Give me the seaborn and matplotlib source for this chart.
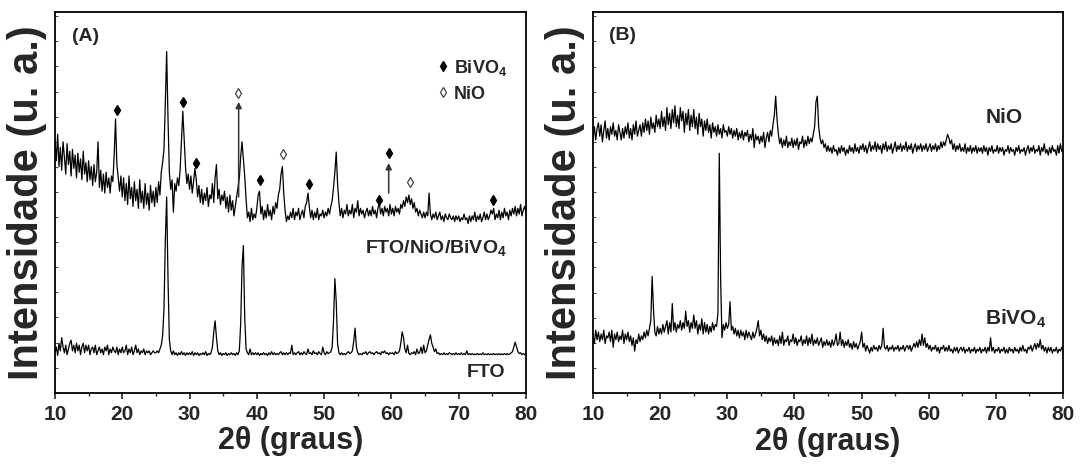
import numpy as np
import pandas as pd
import matplotlib
matplotlib.use("Agg")
import matplotlib.pyplot as plt
from matplotlib.ticker import MultipleLocator
from matplotlib.lines import Line2D
import seaborn as sns

# 2-theta grid (degrees), 0.2 step from 10 to 80
two_theta = np.round(np.arange(10.0, 80.0001, 0.2), 1)

# Panel A: FTO/NiO/BiVO4 film (offset upper trace), arbitrary units
fto_nio_bivo4 = [
    66.5, 61.0, 68.0, 59.5, 64.5, 58.5, 66.0, 62.0, 57.5, 65.5, 60.0, 63.5, 57.0, 64.0, 59.0, 62.5, 56.5, 63.0, 58.0, 61.5, 56.0, 63.5, 57.5, 60.5, 55.5,
    61.0, 56.0, 59.5, 54.5, 60.0, 55.5, 58.0, 66.0, 54.0, 58.5, 53.0, 57.5, 52.5, 58.0, 54.0, 56.5, 52.5, 57.0, 55.5, 62.5, 72.0, 60.0, 56.5, 53.0, 57.0,
    51.5, 56.5, 50.5, 55.0, 49.5, 57.0, 51.0, 54.0, 49.0, 55.5, 50.5, 53.5, 48.5, 56.0, 50.0, 53.0, 48.5, 55.0, 49.5, 52.5, 48.0, 54.5, 50.0, 53.0, 49.0,
    54.0, 50.0, 55.5, 52.0, 58.0, 60.5, 64.0, 76.0, 89.7, 72.0, 58.0, 53.5, 56.0, 47.5, 55.0, 53.0, 56.5, 54.5, 58.5, 66.0, 74.0, 66.5, 59.5, 55.0, 57.5,
    53.5, 57.0, 52.5, 55.5, 59.0, 56.0, 51.5, 54.5, 50.0, 53.5, 49.5, 52.5, 50.5, 54.0, 49.0, 52.0, 51.0, 55.0, 50.0, 56.5, 60.0, 51.0, 53.5, 49.5, 52.0,
    50.5, 53.0, 48.5, 51.5, 47.5, 52.0, 48.0, 50.5, 46.5, 49.0, 51.5, 54.0, 56.5, 62.0, 66.0, 61.5, 57.0, 51.0, 46.0, 47.5, 45.0, 48.5, 45.5, 47.0, 46.0,
    48.5, 52.0, 53.0, 47.0, 49.0, 45.5, 48.0, 46.0, 49.5, 46.5, 48.0, 45.5, 49.0, 47.0, 50.0, 48.5, 52.0, 53.5, 57.5, 59.5, 52.5, 48.0, 45.0, 46.5, 45.5,
    47.5, 46.0, 48.5, 45.5, 47.5, 46.5, 48.5, 45.5, 47.0, 48.0, 46.0, 49.0, 50.0, 52.5, 49.0, 46.0, 48.0, 45.5, 47.5, 46.0, 48.5, 45.5, 47.0, 46.5, 48.0,
    46.0, 47.5, 46.5, 48.5, 47.0, 49.0, 50.5, 54.0, 58.0, 63.3, 55.0, 50.0, 46.5, 48.5, 46.0, 48.0, 47.0, 49.5, 46.5, 48.0, 47.0, 49.5, 46.0, 48.5, 47.5,
    50.5, 46.5, 48.5, 47.0, 48.0, 46.0, 47.5, 48.5, 46.5, 48.0, 46.5, 49.0, 47.0, 48.0, 46.0, 48.5, 50.0, 47.0, 48.5, 46.5, 49.0, 47.5, 48.5, 46.5, 49.5,
    47.0, 48.5, 46.5, 49.0, 47.5, 48.5, 47.0, 49.5, 48.5, 50.5, 49.0, 51.5, 50.0, 52.0, 49.5, 51.0, 48.5, 50.0, 47.5, 48.5, 46.5, 48.0, 47.0, 46.0, 47.5,
    46.0, 47.5, 46.5, 52.5, 47.0, 45.5, 47.0, 46.0, 47.5, 45.5, 46.5, 47.5, 45.5, 46.5, 45.0, 47.0, 46.0, 45.5, 47.0, 46.0, 45.5, 46.5, 45.0, 46.5, 45.5,
    46.5, 45.0, 46.0, 45.5, 47.0, 45.5, 46.0, 44.5, 46.5, 45.0, 46.5, 45.5, 47.5, 45.0, 46.5, 45.5, 47.0, 45.0, 46.0, 47.5, 45.5, 47.0, 45.5, 46.5, 48.0,
    47.0, 48.5, 45.5, 47.0, 46.0, 48.0, 45.5, 47.5, 46.0, 48.5, 46.5, 47.5, 45.5, 48.0, 46.5, 48.5, 47.0, 49.0, 46.5, 48.5, 47.0, 49.5, 46.5, 48.0, 49.0,
    47.5,
]

# Panel A: bare FTO substrate (lower trace)
fto = [
    10.5, 12.0, 9.8, 13.0, 11.0, 14.5, 12.0, 10.5, 12.5, 10.0, 11.5, 13.0, 13.8, 11.0, 12.5, 10.5, 13.0, 11.0, 12.5, 10.0, 12.0, 13.0, 10.5, 12.5, 11.0,
    12.5, 10.0, 11.5, 12.0, 10.5, 12.5, 10.0, 11.0, 12.0, 10.5, 11.5, 10.0, 12.0, 11.0, 12.5, 10.0, 11.5, 10.5, 12.0, 11.0, 10.5, 12.0, 10.0, 11.5, 10.5,
    12.0, 10.5, 11.0, 12.5, 10.0, 11.5, 10.5, 12.0, 10.0, 11.0, 12.5, 10.5, 11.5, 10.0, 11.0, 10.5, 11.5, 10.0, 11.0, 10.5, 11.0, 10.0, 10.5, 11.0, 10.5,
    10.5, 11.0, 10.5, 11.5, 12.5, 15.0, 22.0, 40.0, 51.5, 30.0, 14.0, 11.0, 10.0, 11.0, 10.0, 10.5, 9.8, 10.5, 10.0, 10.8, 10.0, 10.5, 9.8, 10.5, 10.0,
    10.5, 10.0, 10.8, 9.8, 10.5, 10.0, 10.5, 9.8, 10.3, 10.0, 10.5, 10.0, 10.8, 9.8, 10.3, 10.0, 10.5, 12.0, 16.0, 18.9, 14.5, 11.0, 10.0, 10.5, 9.8,
    10.3, 10.0, 10.5, 9.8, 10.3, 10.0, 10.5, 10.0, 10.3, 9.8, 10.5, 10.0, 11.0, 18.0, 33.0, 38.7, 20.0, 11.5, 10.5, 10.0, 11.5, 10.0, 10.5, 10.0, 10.5,
    10.0, 10.5, 9.8, 10.3, 10.0, 10.5, 10.0, 10.3, 9.8, 10.5, 10.0, 10.8, 10.0, 10.5, 10.0, 10.3, 10.0, 10.5, 10.8, 10.0, 10.5, 10.0, 10.5, 10.0, 10.5,
    10.3, 12.5, 10.0, 10.5, 10.0, 10.5, 10.8, 10.0, 10.5, 10.0, 10.8, 10.3, 10.0, 11.5, 10.3, 10.5, 10.0, 11.0, 10.3, 10.5, 10.0, 10.8, 10.3, 10.0, 12.0,
    10.5, 10.0, 10.8, 10.3, 10.5, 10.8, 12.0, 19.0, 30.0, 24.0, 13.0, 10.5, 10.0, 10.5, 10.0, 10.3, 10.0, 10.5, 10.8, 10.3, 10.5, 11.0, 13.5, 17.0, 12.0,
    10.5, 10.0, 10.3, 10.0, 10.5, 10.3, 10.8, 10.0, 10.5, 10.8, 10.3, 10.5, 10.0, 10.5, 10.8, 10.3, 10.5, 10.0, 10.8, 10.5, 11.0, 10.3, 10.5, 10.0, 10.5,
    10.3, 10.5, 10.0, 10.8, 10.3, 10.5, 11.0, 13.0, 16.0, 14.5, 11.5, 10.5, 12.5, 10.3, 10.0, 10.5, 10.3, 10.8, 10.0, 11.5, 10.3, 10.5, 12.0, 10.3, 12.5,
    10.5, 11.0, 12.5, 14.0, 15.2, 13.0, 12.0, 10.8, 11.5, 10.3, 10.5, 10.0, 10.3, 10.0, 10.5, 10.0, 10.3, 10.0, 10.5, 10.3, 10.0, 10.3, 10.0, 10.5, 10.0,
    10.3, 10.0, 10.5, 10.0, 10.3, 10.0, 11.0, 10.0, 10.3, 10.0, 10.3, 10.0, 10.2, 10.0, 10.3, 10.0, 10.2, 10.0, 10.5, 10.0, 10.2, 10.0, 10.3, 10.0, 10.2,
    10.0, 10.3, 10.0, 10.2, 10.0, 10.3, 10.0, 10.2, 10.0, 10.3, 10.0, 10.3, 10.0, 10.2, 10.5, 10.8, 12.0, 13.3, 12.0, 10.8, 10.3, 10.5, 10.0, 10.3, 10.0,
    10.2,
]

# Panel B: NiO film (upper trace)
nio = [
    67.0, 70.0, 66.5, 69.5, 71.0, 67.5, 70.5, 66.0, 69.0, 71.5, 67.0, 69.5, 66.5, 70.0, 68.0, 71.0, 67.5, 69.0, 66.5, 70.5, 68.5, 66.5, 69.5, 67.0, 70.0,
    68.0, 71.0, 67.0, 69.5, 66.5, 70.5, 68.0, 71.5, 67.5, 69.0, 70.5, 67.5, 71.0, 68.5, 72.0, 69.0, 71.5, 68.0, 72.5, 69.5, 71.0, 68.5, 73.0, 70.0, 72.0,
    69.5, 74.0, 70.0, 72.5, 69.0, 75.0, 70.5, 73.5, 69.5, 74.5, 71.0, 75.5, 70.0, 73.0, 69.5, 75.0, 71.5, 74.0, 68.5, 73.5, 70.5, 74.5, 69.0, 73.0, 70.0,
    74.5, 69.5, 72.5, 68.0, 73.5, 70.0, 72.0, 67.5, 71.5, 69.0, 72.0, 68.5, 70.5, 67.0, 71.0, 68.5, 70.0, 67.5, 70.5, 68.0, 69.5, 67.0, 70.5, 68.5, 69.0,
    67.5, 70.0, 68.0, 69.5, 67.0, 69.0, 67.5, 69.5, 66.5, 68.5, 67.0, 69.0, 66.5, 68.5, 67.5, 69.0, 66.0, 68.0, 66.5, 69.5, 64.5, 68.0, 66.5, 67.5, 65.5,
    67.5, 66.0, 68.5, 64.5, 67.0, 68.5, 66.0, 69.0, 67.5, 70.5, 73.0, 78.0, 72.0, 68.0, 65.5, 67.0, 64.5, 66.5, 65.0, 67.5, 64.5, 66.0, 65.0, 67.0, 64.5,
    66.5, 65.0, 67.0, 64.0, 66.0, 65.5, 67.5, 64.5, 66.5, 65.0, 67.5, 65.5, 67.0, 66.0, 68.0, 70.0, 76.5, 78.0, 70.0, 67.0, 65.5, 66.5, 64.5, 65.5, 63.5,
    65.0, 63.5, 64.5, 63.0, 65.0, 63.5, 64.0, 62.5, 64.5, 63.0, 65.0, 63.5, 64.5, 62.5, 64.0, 63.0, 65.0, 63.5, 64.5, 63.0, 65.5, 63.5, 64.5, 63.0, 65.0,
    64.0, 65.5, 63.5, 65.0, 63.0, 64.5, 66.0, 63.5, 65.0, 64.0, 66.0, 63.5, 65.5, 64.0, 65.0, 63.0, 65.5, 64.0, 66.0, 63.5, 65.0, 64.0, 65.5, 63.0, 64.5,
    66.0, 63.5, 65.0, 64.0, 65.5, 63.5, 65.0, 64.0, 66.0, 63.5, 65.0, 64.0, 65.5, 63.0, 64.5, 65.5, 63.5, 65.0, 64.0, 65.5, 63.5, 65.0, 64.0, 65.5, 63.5,
    64.5, 65.5, 63.5, 65.0, 64.0, 65.5, 63.5, 65.0, 64.0, 66.0, 64.5, 66.0, 65.0, 66.5, 68.0, 67.0, 65.5, 66.5, 64.0, 65.5, 63.5, 65.0, 64.0, 65.5, 63.5,
    64.5, 63.5, 65.5, 63.0, 64.5, 63.5, 65.0, 63.0, 64.5, 63.5, 65.0, 63.0, 64.5, 63.5, 64.5, 63.0, 65.0, 63.5, 64.5, 62.5, 64.5, 63.5, 65.0, 63.0, 64.0,
    63.5, 65.0, 63.0, 64.5, 63.5, 64.5, 62.5, 64.0, 63.5, 65.0, 63.0, 64.5, 63.5, 64.0, 62.5, 64.5, 63.5, 65.0, 63.0, 64.0, 63.5, 64.5, 62.5, 64.0, 65.0,
    63.0, 64.5, 63.5, 65.0, 63.0, 64.0, 63.5, 65.0, 62.5, 64.5, 63.5, 65.5, 63.0, 64.0, 62.5, 64.5, 63.0, 65.0, 63.5, 64.0, 62.5, 65.0, 63.0, 65.5, 63.5,
    64.0,
]

# Panel B: BiVO4 film (lower trace)
bivo4 = [
    15.0, 13.0, 16.5, 14.0, 16.0, 13.5, 15.5, 14.0, 16.5, 13.0, 15.0, 14.5, 16.0, 13.5, 16.5, 12.0, 15.5, 14.0, 16.0, 13.5, 15.0, 14.0, 16.5, 13.0, 15.5,
    14.0, 16.0, 13.5, 15.0, 12.5, 14.5, 11.0, 14.0, 13.0, 15.5, 13.5, 15.0, 14.0, 16.0, 14.5, 16.5, 15.0, 17.0, 19.0, 30.6, 22.0, 16.0, 15.0, 17.5, 15.5,
    17.0, 15.5, 18.0, 16.0, 17.5, 19.0, 15.5, 18.5, 16.0, 23.5, 16.5, 18.5, 16.0, 18.0, 17.0, 19.0, 16.5, 18.5, 17.0, 21.5, 17.5, 19.0, 16.0, 18.5, 17.0,
    20.5, 17.0, 19.0, 15.5, 18.0, 16.5, 19.5, 15.5, 18.5, 16.0, 18.0, 15.5, 17.5, 16.0, 18.5, 16.5, 18.0, 17.5, 21.0, 63.0, 30.0, 14.5, 18.0, 16.5, 18.5,
    17.0, 18.0, 24.0, 16.5, 17.5, 15.5, 17.0, 15.0, 16.5, 14.5, 16.5, 15.0, 16.0, 14.0, 16.5, 14.5, 16.0, 15.0, 14.0, 16.0, 14.5, 15.5, 17.0, 19.0, 15.0,
    16.5, 14.0, 15.5, 13.5, 15.0, 13.0, 14.5, 13.5, 15.0, 12.5, 14.5, 13.0, 14.0, 12.5, 15.0, 13.0, 16.0, 12.5, 14.0, 13.5, 15.0, 12.5, 14.0, 13.5, 15.5,
    13.0, 14.5, 12.5, 14.0, 13.5, 15.0, 12.5, 14.0, 13.0, 15.0, 12.5, 14.5, 13.0, 15.5, 12.5, 14.0, 13.0, 14.5, 12.5, 13.5, 14.5, 12.0, 13.5, 12.5, 14.0,
    12.5, 13.5, 12.0, 14.0, 12.5, 13.5, 15.5, 12.5, 13.0, 16.0, 12.5, 14.0, 12.0, 13.5, 12.5, 14.0, 12.0, 13.0, 11.5, 13.5, 12.0, 13.0, 11.5, 12.5, 13.5,
    16.0, 12.0, 13.0, 11.0, 12.5, 11.5, 10.5, 12.0, 11.0, 12.5, 11.5, 12.0, 11.0, 12.5, 11.5, 12.5, 17.0, 12.0, 11.5, 12.5, 11.0, 12.0, 11.5, 12.5, 11.0,
    12.0, 11.5, 12.5, 11.0, 12.0, 11.5, 12.5, 11.0, 12.0, 12.5, 11.5, 12.5, 11.0, 12.0, 13.0, 12.0, 13.5, 12.0, 14.0, 12.5, 15.5, 12.5, 14.5, 12.0, 13.0,
    11.5, 12.5, 11.0, 12.0, 11.5, 12.5, 11.0, 12.0, 10.5, 12.0, 11.5, 12.5, 11.0, 12.0, 11.0, 12.5, 11.0, 11.5, 10.5, 12.0, 11.0, 12.0, 10.5, 11.5, 12.0,
    11.0, 12.0, 10.5, 11.5, 11.0, 12.0, 10.5, 11.5, 11.0, 12.0, 10.5, 11.5, 11.0, 12.0, 10.5, 11.5, 11.0, 12.0, 10.5, 12.0, 11.0, 14.5, 11.0, 12.0, 10.5,
    11.5, 11.0, 12.0, 10.5, 11.5, 11.0, 12.0, 10.5, 11.5, 10.5, 12.0, 11.0, 11.5, 10.5, 12.0, 11.0, 11.5, 10.5, 12.0, 11.0, 12.5, 11.0, 11.5, 10.5, 12.0,
    11.5, 12.5, 11.0, 12.0, 13.0, 11.5, 13.0, 12.0, 14.0, 11.5, 12.5, 11.0, 12.0, 10.5, 12.0, 11.0, 12.0, 10.5, 11.5, 11.0, 12.0, 10.5, 11.5, 11.0, 12.0,
    11.0,
]

# Reflection markers on the FTO/NiO/BiVO4 pattern (2-theta, marker height)
bivo4_peak_pos = [19.2, 29.1, 31.0, 40.4, 47.7, 58.1, 59.6, 75.1]
bivo4_peak_h = [74.4, 76.5, 60.5, 55.9, 54.8, 50.7, 63.1, 50.7]
nio_peak_pos = [37.2, 43.9, 62.7]
nio_peak_h = [78.9, 62.8, 55.5]

# Arrows linking overlapped reflections to their markers: (2-theta, tail, head)
arrow_pos = [37.3, 59.6]
arrow_tail = [51.5, 52.5]
arrow_head = [76.5, 60.4]

sns.set_theme(style="ticks")
plt.rcParams["font.family"] = ["Liberation Sans", "DejaVu Sans"]
plt.rcParams["font.weight"] = "bold"
plt.rcParams["mathtext.fontset"] = "custom"
plt.rcParams["mathtext.rm"] = "Liberation Sans:bold"
plt.rcParams["mathtext.bf"] = "Liberation Sans:bold"
plt.rcParams["mathtext.default"] = "bf"

fig = plt.figure(figsize=(10.82, 4.68), dpi=100)
ax_a = fig.add_axes([0.0508, 0.1609, 0.4353, 0.8124])
ax_b = fig.add_axes([0.5481, 0.1603, 0.4344, 0.8130])

df_a = pd.DataFrame({"2theta": np.concatenate([two_theta, two_theta]),
                     "I": fto_nio_bivo4 + fto,
                     "amostra": ["FTO/NiO/BiVO4"] * len(two_theta) + ["FTO"] * len(two_theta)})
df_b = pd.DataFrame({"2theta": np.concatenate([two_theta, two_theta]),
                     "I": nio + bivo4,
                     "amostra": ["NiO"] * len(two_theta) + ["BiVO4"] * len(two_theta)})

for ax, df in ((ax_a, df_a), (ax_b, df_b)):
    sns.lineplot(data=df, x="2theta", y="I", units="amostra", estimator=None,
                 sort=False, color="black", lw=0.9, ax=ax, legend=False)
    ax.set_xlim(10, 80)
    ax.set_ylim(0, 100)
    ax.xaxis.set_major_locator(MultipleLocator(10))
    ax.xaxis.set_minor_locator(MultipleLocator(5))
    ax.yaxis.set_minor_locator(MultipleLocator(6.6))
    ax.set_yticks([])
    ax.tick_params(axis="x", which="major", direction="out", length=4.5, width=1.2,
                   labelsize=15, pad=4, top=False)
    ax.tick_params(axis="x", which="minor", direction="out", length=2.5, width=1.0, top=False)
    ax.tick_params(axis="y", which="minor", direction="in", length=2.5, width=0.6,
                   left=True, right=False, labelleft=False)
    for lab in ax.get_xticklabels():
        lab.set_fontweight("bold")
    for sp in ax.spines.values():
        sp.set_linewidth(1.3)
        sp.set_color("black")
    ax.set_xlabel("2θ (graus)", fontsize=22, fontweight="bold", labelpad=2)
    ax.set_ylabel("Intensidade (u. a.)", fontsize=30, fontweight="bold", labelpad=6)

# Reflection markers and arrows in panel A
ax_a.plot(bivo4_peak_pos, bivo4_peak_h, ls="", marker="d", ms=5.5, color="black")
ax_a.plot(nio_peak_pos, nio_peak_h, ls="", marker="d", ms=5.5, mfc="white",
          mec="#444444", mew=0.9)
for xp, y0, y1 in zip(arrow_pos, arrow_tail, arrow_head):
    ax_a.annotate("", xy=(xp, y1), xytext=(xp, y0),
                  arrowprops=dict(arrowstyle="-|>", color="#333333", lw=1.1,
                                  mutation_scale=9, shrinkA=0, shrinkB=0))

handles = [Line2D([], [], ls="", marker="d", ms=5.5, color="black", label="BiVO$_4$"),
           Line2D([], [], ls="", marker="d", ms=5.5, mfc="white", mec="#444444",
                  mew=0.9, label="NiO")]
ax_a.legend(handles=handles, loc="upper left", bbox_to_anchor=(0.794, 0.905),
            frameon=False, borderpad=0, handlelength=0.6, handletextpad=0.3,
            labelspacing=0.45, prop={"weight": "bold", "size": 13})

ax_a.text(12.6, 93.6, "(A)", fontsize=14, fontweight="bold", va="center")
ax_a.text(77.2, 38.0, "FTO/NiO/BiVO$_4$", fontsize=14, fontweight="bold",
          ha="right", va="center")
ax_a.text(76.9, 5.4, "FTO", fontsize=14, fontweight="bold", ha="right", va="center")

ax_b.text(12.4, 94.0, "(B)", fontsize=14, fontweight="bold", va="center")
ax_b.text(68.4, 72.3, "NiO", fontsize=15, fontweight="bold", ha="left", va="center")
ax_b.text(68.4, 19.4, "BiVO$_4$", fontsize=15, fontweight="bold", ha="left", va="center")

fig.savefig("out.png", dpi=100)
